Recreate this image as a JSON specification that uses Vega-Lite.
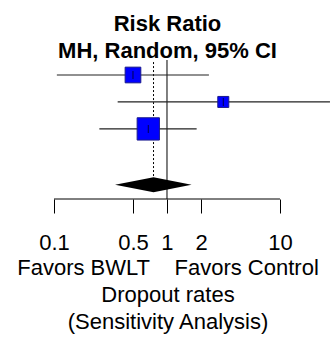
{
  "$schema": "https://vega.github.io/schema/vega-lite/v6.json",
  "width": 335,
  "height": 139,
  "autosize": "none",
  "padding": {"left": 0, "right": 0, "top": 60, "bottom": 146},
  "background": "white",
  "config": {"view": {"stroke": null}, "font": "Liberation Sans"},
  "title": {
    "text": ["Risk Ratio", "MH, Random, 95% CI"],
    "fontSize": 22,
    "fontWeight": "bold",
    "font": "Liberation Sans",
    "lineHeight": 27,
    "anchor": "middle",
    "offset": -3,
    "color": "black"
  },
  "datasets": {
    "axisline": [{"from": 0.1, "to": 10, "row": 5.6}],
    "refline": [{"x": 1, "r1": 0.444, "r2": 5.6}],
    "pooledline": [{"x": 0.76, "r1": 0.52, "r2": 4.79}],
    "studies": [
      {"study": "Study 1", "rr": 0.5, "lo": 0.106, "hi": 2.35, "row": 1, "weight": 28.5},
      {"study": "Study 2", "rr": 3.15, "lo": 0.366, "hi": 27.7, "row": 2, "weight": 14.0},
      {"study": "Study 3", "rr": 0.683, "lo": 0.252, "hi": 1.83, "row": 3, "weight": 57.5}
    ],
    "diamond": [
      {"rr": 0.347, "top": 5.07, "bottom": 5.07},
      {"rr": 0.76, "top": 4.79, "bottom": 5.35},
      {"rr": 1.65, "top": 5.07, "bottom": 5.07}
    ]
  },
  "layer": [
    {
      "data": {"name": "axisline"},
      "mark": {"type": "rule", "color": "black", "strokeWidth": 1},
      "encoding": {
        "x": {
          "field": "from",
          "type": "quantitative",
          "scale": {"type": "log", "domain": [0.03327, 30.69], "nice": false, "zero": false},
          "axis": {
            "values": [0.1, 0.5, 1, 2, 10],
            "format": "~g",
            "domain": false,
            "grid": false,
            "ticks": true,
            "tickSize": 14,
            "tickColor": "black",
            "tickWidth": 1,
            "labelFontSize": 22,
            "labelFont": "Liberation Sans",
            "labelColor": "black",
            "labelPadding": 19,
            "labelFlush": false,
            "labelOverlap": false,
            "title": ["Favors BWLT\u00a0\u00a0\u00a0\u00a0Favors Control", "Dropout rates", "(Sensitivity Analysis)"],
            "titleFont": "Liberation Sans",
            "titleFontSize": 22,
            "titleFontWeight": "normal",
            "titleColor": "black",
            "titleLineHeight": 27,
            "titlePadding": 4
          }
        },
        "x2": {"field": "to"},
        "y": {
          "field": "row",
          "type": "quantitative",
          "scale": {"domain": [0.444, 5.6], "reverse": true, "nice": false, "zero": false},
          "axis": null
        }
      }
    },
    {
      "data": {"name": "refline"},
      "mark": {"type": "rule", "color": "black", "strokeWidth": 1},
      "encoding": {
        "x": {"field": "x", "type": "quantitative"},
        "y": {"field": "r1", "type": "quantitative"},
        "y2": {"field": "r2"}
      }
    },
    {
      "data": {"name": "pooledline"},
      "mark": {"type": "rule", "color": "black", "strokeWidth": 1, "strokeDash": [2, 2]},
      "encoding": {
        "x": {"field": "x", "type": "quantitative"},
        "y": {"field": "r1", "type": "quantitative"},
        "y2": {"field": "r2"}
      }
    },
    {
      "data": {"name": "studies"},
      "mark": {"type": "rule", "color": "#222222", "strokeWidth": 1.2},
      "encoding": {
        "x": {"field": "lo", "type": "quantitative"},
        "x2": {"field": "hi"},
        "y": {"field": "row", "type": "quantitative"}
      }
    },
    {
      "data": {"name": "studies"},
      "mark": {"type": "point", "shape": "square", "filled": true, "fill": "#0000ff", "stroke": "#1a1a8c", "strokeWidth": 1, "opacity": 1},
      "encoding": {
        "x": {"field": "rr", "type": "quantitative"},
        "y": {"field": "row", "type": "quantitative"},
        "size": {"field": "weight", "type": "quantitative", "scale": {"type": "linear", "domain": [0, 100], "range": [0, 864], "zero": true}, "legend": null}
      }
    },
    {
      "data": {"name": "studies"},
      "mark": {"type": "tick", "orient": "vertical", "size": 8, "thickness": 1, "color": "black"},
      "encoding": {
        "x": {"field": "rr", "type": "quantitative"},
        "y": {"field": "row", "type": "quantitative"}
      }
    },
    {
      "data": {"name": "diamond"},
      "mark": {"type": "area", "color": "black", "opacity": 1},
      "encoding": {
        "x": {"field": "rr", "type": "quantitative"},
        "y": {"field": "top", "type": "quantitative"},
        "y2": {"field": "bottom"}
      }
    }
  ]
}
